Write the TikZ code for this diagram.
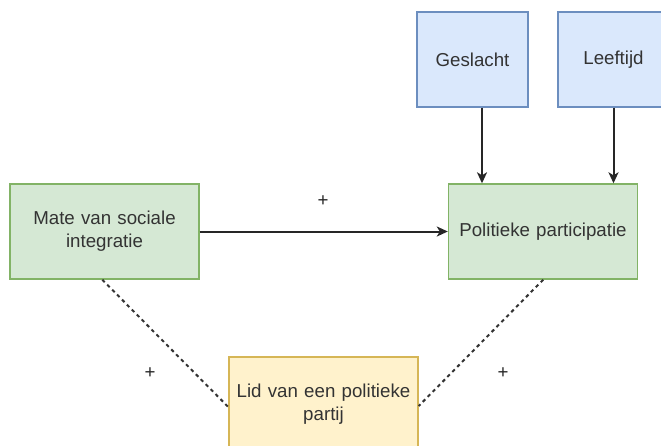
\documentclass[tikz,border=0pt]{standalone}
\usepackage{fontspec}
\setmainfont{Liberation Sans}
\usetikzlibrary{arrows.meta}
\definecolor{gfill}{HTML}{D5E8D4}
\definecolor{gline}{HTML}{82B366}
\definecolor{bfill}{HTML}{DAE8FC}
\definecolor{bline}{HTML}{6C8EBF}
\definecolor{yfill}{HTML}{FFF2CC}
\definecolor{yline}{HTML}{D6B656}
\definecolor{txt}{HTML}{333333}
\begin{document}
\begin{tikzpicture}[x=1pt,y=-1pt,
  box/.style={draw, line width=1.4pt, minimum height=95pt, inner sep=2pt, align=center,
    text=txt, font=\fontsize{18.7}{23}\selectfont},
  greenbox/.style={box, fill=gfill, draw=gline, minimum width=189pt, text width=180pt},
  bluebox/.style={box, fill=bfill, draw=bline, minimum width=111pt},
  yellowbox/.style={box, fill=yfill, draw=yline, minimum width=189pt, text width=180pt},
  arr/.style={draw=black!85, line width=2pt, -{Stealth[length=11pt,width=10pt,inset=3pt]}},
  dotline/.style={draw=black!80, line width=2pt, dash pattern=on 3.5pt off 3.5pt},
  lbl/.style={text=black!85, font=\fontsize{18.7}{23}\selectfont, inner sep=0pt}]
\useasboundingbox (0,0) rectangle (661,445);
\clip (0,0) rectangle (661,445);
\node[bluebox] (gesl) at (472.5,59.5) {Geslacht};
\node[bluebox] (leef) at (613.5,59.5) {Leeftijd};
\node[greenbox] (mate) at (104.5,231.5) {Mate van sociale\\integratie};
\node[greenbox] (pol) at (543,231.5) {Politieke participatie};
\node[yellowbox] (lid) at (323.5,404.5) {Lid van een politieke\\partij};
\draw[arr] ([xshift=9.5pt]gesl.south) -- ([xshift=9.5pt]gesl.south |- pol.north);
\draw[arr] (leef.south) -- (leef.south |- pol.north);
\draw[arr] (mate.east) -- (pol.west);
\draw[dotline] ([xshift=93pt]mate.south west) -- ([yshift=-2.5pt]lid.west);
\draw[dotline] ([xshift=-95pt]pol.south east) -- ([yshift=-1.5pt]lid.east);
\node[lbl] (p1) at (323,201) {+};
\node[lbl] (p2) at (150,373) {+};
\node[lbl] (p3) at (503,373) {+};
\end{tikzpicture}
\end{document}
